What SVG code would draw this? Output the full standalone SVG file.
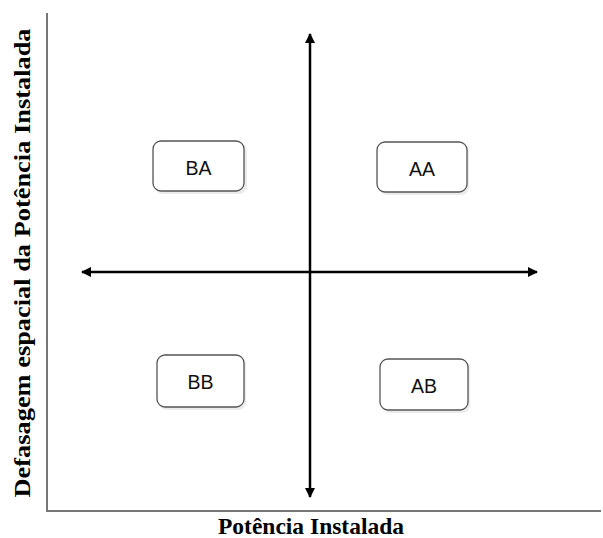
<svg xmlns="http://www.w3.org/2000/svg" width="603" height="538" viewBox="0 0 603 538">
<style>
.box{fill:#fff;stroke:#555;stroke-width:1.3}
.shadow{fill:#ddd;opacity:0.6}
.lbl{font-family:"Liberation Sans",Arial,sans-serif;font-size:19.5px;fill:#111;text-anchor:middle}
.ax{font-family:"Liberation Serif","Times New Roman",serif;font-size:23px;font-weight:bold;fill:#000;text-anchor:middle}
.arr{stroke:#000;stroke-width:2.5;fill:none}
</style>
<defs>
<marker id="ah" viewBox="0 0 10 10" refX="9" refY="5" markerWidth="4" markerHeight="4" orient="auto-start-reverse">
<path d="M0,0 L10,5 L0,10 Z" fill="#000"/>
</marker>
</defs>
<rect width="603" height="538" fill="#fff"/>
<g id="frame">
<path d="M47,13 V511 H601" fill="none" stroke="#777" stroke-width="2"/>
</g>
<g id="connectors">
<line class="arr" x1="310" y1="34" x2="310" y2="497" marker-start="url(#ah)" marker-end="url(#ah)"/>
<line class="arr" x1="82" y1="272" x2="537" y2="272" marker-start="url(#ah)" marker-end="url(#ah)"/>
</g>
<g id="BA">
<rect class="shadow" x="155" y="143" width="92" height="51" rx="8"/>
<rect class="box" x="153" y="141" width="91" height="50" rx="8"/>
<text class="lbl" x="198.5" y="175">BA</text>
</g>
<g id="AA">
<rect class="shadow" x="379" y="144" width="90" height="51" rx="8"/>
<rect class="box" x="377" y="142" width="90" height="50" rx="8"/>
<text class="lbl" x="422" y="176">AA</text>
</g>
<g id="BB">
<rect class="shadow" x="159" y="357" width="87" height="53" rx="8"/>
<rect class="box" x="157" y="355" width="87" height="52" rx="8"/>
<text class="lbl" x="200.5" y="389">BB</text>
</g>
<g id="AB">
<rect class="shadow" x="382" y="361" width="88" height="52" rx="8"/>
<rect class="box" x="380" y="359" width="88" height="51" rx="8"/>
<text class="lbl" x="424" y="393">AB</text>
</g>
<text class="ax" x="311" y="534" textLength="186" lengthAdjust="spacingAndGlyphs">Potência Instalada</text>
<text class="ax" transform="translate(30,263) rotate(-90)" textLength="469" lengthAdjust="spacingAndGlyphs">Defasagem espacial da Potência Instalada</text>
</svg>
